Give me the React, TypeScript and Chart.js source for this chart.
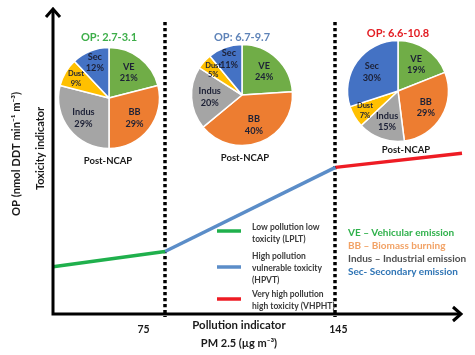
import React, { useEffect, useRef } from "react";
import { Chart, registerables } from "chart.js";

Chart.register(...registerables);

// ---------- data ----------
const thresholds = [75, 145];
const xTickLabels = ["75", "145"];
const lpltX = [29, 75];
const lpltY = [1.85, 2.45];
const hpvtX = [75, 145];
const hpvtY = [2.45, 5.75];
const vhphtX = [145, 197];
const vhphtY = [5.75, 6.3];

const sourceLabels = ["VE", "BB", "Indus", "Dust", "Sec"];
const pie1Values = [21, 29, 29, 9, 12];
const pie2Values = [24, 40, 20, 5, 11];
const pie3Values = [19, 29, 15, 7, 30];
const opRanges = ["OP: 2.7-3.1", "OP: 6.7-9.7", "OP: 6.6-10.8"];
const pieFooters = ["Post-NCAP", "Post-NCAP", "Post-NCAP"];

const zoneLegend = [
  ["Low pollution low", "toxicity (LPLT)"],
  ["High pollution", "vulnerable toxicity", "(HPVT)"],
  ["Very high pollution", "high toxicity (VHPHT)"],
];
const sourceLegend = [
  "VE \u2013 Vehicular emission",
  "BB \u2013 Biomass burning",
  "Indus \u2013 Industrial emission",
  "Sec- Secondary emission",
];

// ---------- styles ----------
const FONT = "Lato, 'Open Sans', 'DejaVu Sans', sans-serif";
const SLICE_COLORS = ["#70AD47", "#ED7D31", "#A5A5A5", "#FFC000", "#4472C4"];
const LINE_COLORS = ["#1FB04C", "#5B8DC8", "#EE1C24"];
const TITLE_COLORS = ["#3DAE49", "#5E83B8", "#E31E24"];
const SOURCE_COLORS = ["#2FB14B", "#F2A265", "#505050", "#2E74B5"];

const PIE_LAYOUT = [
  { cx: 108.5, cy: 97.5, r: 50.5, titleDy: -61, footDx: -1, footDy: 63 },
  { cx: 242, cy: 94.5, r: 50.5, titleDy: -58, footDx: 3, footDy: 62.5 },
  { cx: 398, cy: 91, r: 50.5, titleDy: -58, footDx: 8, footDy: 59 },
];
const PIE_W = 150;
const PIE_H = 150;

const pieLabelPlugin = {
  id: "pieLabels",
  afterDatasetsDraw(chart: any, _args: any, opts: any) {
    const ctx = chart.ctx;
    const meta = chart.getDatasetMeta(0);
    const values = chart.data.datasets[0].data as number[];
    const labels = chart.data.labels as string[];
    ctx.save();
    ctx.textAlign = "center";
    ctx.textBaseline = "middle";
    let cx = 0,
      cy = 0;
    meta.data.forEach((arc: any, i: number) => {
      const p = arc.getProps(["x", "y", "startAngle", "endAngle", "outerRadius"], true);
      cx = p.x;
      cy = p.y;
      const R = p.outerRadius;
      const mid = (p.startAngle + p.endAngle) / 2;
      const v = values[i];
      const f = v < 13 ? 0.76 : 0.64;
      const lx = p.x + Math.cos(mid) * R * f;
      const ly = p.y + Math.sin(mid) * R * f;
      const size = v < 10 ? 7.5 : 9.2;
      ctx.fillStyle = "#1d2136";
      ctx.font = `bold ${size}px ${FONT}`;
      ctx.fillText(labels[i], lx, ly - size * 0.6);
      ctx.fillText(`${v}%`, lx, ly + size * 0.65);
    });
    ctx.font = `bold 11px ${FONT}`;
    ctx.fillStyle = opts.titleColor;
    ctx.fillText(opts.title, cx, cy + opts.titleDy);
    ctx.font = `bold 9.5px ${FONT}`;
    ctx.fillStyle = "#1a1a1a";
    ctx.fillText(opts.footer, cx + opts.footDx, cy + opts.footDy);
    ctx.restore();
  },
};

const schematicPlugin = {
  id: "schematic",
  beforeDatasetsDraw(chart: any) {
    const ctx = chart.ctx;
    const xs = chart.scales.x;
    ctx.save();
    ctx.strokeStyle = "#000";
    ctx.lineWidth = 3.5;
    ctx.setLineDash([3.2, 2.8]);
    thresholds.forEach((t) => {
      const px = Math.round(xs.getPixelForValue(t));
      ctx.beginPath();
      ctx.moveTo(px, 22);
      ctx.lineTo(px, 317);
      ctx.stroke();
    });
    ctx.restore();
  },
  afterDatasetsDraw(chart: any) {
    const ctx = chart.ctx;
    const { left, right, top, bottom } = chart.chartArea;
    const xs = chart.scales.x;
    ctx.save();
    // axes
    ctx.strokeStyle = "#000";
    ctx.lineWidth = 3;
    ctx.lineCap = "butt";
    ctx.beginPath();
    ctx.moveTo(left, bottom + 1.5);
    ctx.lineTo(left, top + 1);
    ctx.moveTo(left - 1.5, bottom);
    ctx.lineTo(right - 1, bottom);
    ctx.stroke();
    ctx.lineJoin = "miter";
    ctx.beginPath();
    ctx.moveTo(left - 7, top + 9);
    ctx.lineTo(left, top + 1);
    ctx.lineTo(left + 7, top + 9);
    ctx.moveTo(right - 9, bottom - 7);
    ctx.lineTo(right - 1, bottom);
    ctx.lineTo(right - 9, bottom + 7);
    ctx.stroke();

    // tick labels
    ctx.fillStyle = "#1a1a1a";
    ctx.textAlign = "center";
    ctx.textBaseline = "middle";
    ctx.font = `bold 10.5px ${FONT}`;
    const tickDx = [-21.5, 3];
    thresholds.forEach((t, i) => {
      ctx.fillText(xTickLabels[i], xs.getPixelForValue(t) + tickDx[i], 330);
    });
    ctx.font = `bold 11.4px ${FONT}`;
    ctx.fillText("Pollution indicator", 239, 325);
    ctx.font = `bold 11px ${FONT}`;
    ctx.fillText("PM 2.5 (\u00b5g m\u207b\u00b3)", 239, 343);

    // y titles
    ctx.save();
    ctx.translate(16, 154);
    ctx.rotate(-Math.PI / 2);
    ctx.font = `bold 11.2px ${FONT}`;
    ctx.fillText("OP (nmol DDT min\u207b\u00b9 m\u207b\u00b3)", 0, 0);
    ctx.restore();
    ctx.save();
    ctx.translate(40, 148.5);
    ctx.rotate(-Math.PI / 2);
    ctx.font = `bold 10.9px ${FONT}`;
    ctx.fillText("Toxicity indicator", 0, 0);
    ctx.restore();

    // zone legend
    const legendY = [
      [227, 239],
      [256, 268, 280],
      [294, 306],
    ];
    const lineY = [231, 267, 299];
    ctx.lineWidth = 3.5;
    zoneLegend.forEach((lines, i) => {
      ctx.strokeStyle = LINE_COLORS[i];
      ctx.beginPath();
      ctx.moveTo(217, lineY[i]);
      ctx.lineTo(241, lineY[i]);
      ctx.stroke();
      ctx.fillStyle = "#3a3a3a";
      ctx.textAlign = "left";
      ctx.font = `bold 8.5px ${FONT}`;
      lines.forEach((s, j) => ctx.fillText(s, 252, legendY[i][j]));
    });

    // source legend
    ctx.textAlign = "left";
    ctx.font = `bold 10px ${FONT}`;
    const srcY = [233, 246, 259, 272];
    sourceLegend.forEach((s, i) => {
      ctx.fillStyle = SOURCE_COLORS[i];
      ctx.fillText(s, 348, srcY[i]);
    });
    ctx.restore();
  },
};

function PieChart({ values, idx }: { values: number[]; idx: number }) {
  const ref = useRef<HTMLCanvasElement>(null);
  const L = PIE_LAYOUT[idx];
  useEffect(() => {
    if (!ref.current) return;
    const chart = new Chart(ref.current, {
      type: "pie",
      data: {
        labels: sourceLabels,
        datasets: [
          {
            data: values,
            backgroundColor: SLICE_COLORS,
            borderColor: "#ffffff",
            borderWidth: 1.5,
          },
        ],
      },
      options: {
        animation: false,
        responsive: false,
        events: [],
        radius: L.r,
        layout: { padding: 0 },
        plugins: {
          legend: { display: false },
          tooltip: { enabled: false },
          pieLabels: {
            title: opRanges[idx],
            titleColor: TITLE_COLORS[idx],
            titleDy: L.titleDy,
            footer: pieFooters[idx],
            footDx: L.footDx,
            footDy: L.footDy,
          },
        } as any,
      } as any,
      plugins: [pieLabelPlugin],
    });
    return () => chart.destroy();
  }, []);
  return (
    <div
      style={{
        position: "absolute",
        left: L.cx - PIE_W / 2,
        top: L.cy - PIE_H / 2,
        width: PIE_W,
        height: PIE_H,
      }}
    >
      <canvas ref={ref} width={PIE_W} height={PIE_H} />
    </div>
  );
}

function MainChart() {
  const ref = useRef<HTMLCanvasElement>(null);
  useEffect(() => {
    if (!ref.current) return;
    const mk = (xs: number[], ys: number[], color: string, label: string) => ({
      label,
      data: xs.map((x, i) => ({ x, y: ys[i] })),
      borderColor: color,
      backgroundColor: color,
      borderWidth: 3.5,
      pointRadius: 0,
      showLine: true,
      clip: false as any,
    });
    const chart = new Chart(ref.current, {
      type: "scatter",
      data: {
        datasets: [
          mk(lpltX, lpltY, LINE_COLORS[0], "LPLT"),
          mk(hpvtX, hpvtY, LINE_COLORS[1], "HPVT"),
          mk(vhphtX, vhphtY, LINE_COLORS[2], "VHPHT"),
        ],
      },
      options: {
        animation: false,
        responsive: false,
        events: [],
        layout: { padding: { left: 53, right: 13, top: 8, bottom: 41 } },
        scales: {
          x: { type: "linear", min: 29, max: 197, display: false },
          y: { type: "linear", min: 0, max: 12, display: false },
        },
        plugins: { legend: { display: false }, tooltip: { enabled: false } },
      },
      plugins: [schematicPlugin],
    });
    return () => chart.destroy();
  }, []);
  return <canvas ref={ref} width={475} height={355} style={{ position: "absolute", left: 0, top: 0 }} />;
}

export default function App() {
  return (
    <div
      style={{
        position: "absolute",
        left: 0,
        top: 0,
        width: 475,
        height: 355,
        background: "#ffffff",
        overflow: "hidden",
      }}
    >
      <MainChart />
      <PieChart values={pie1Values} idx={0} />
      <PieChart values={pie2Values} idx={1} />
      <PieChart values={pie3Values} idx={2} />
    </div>
  );
}
